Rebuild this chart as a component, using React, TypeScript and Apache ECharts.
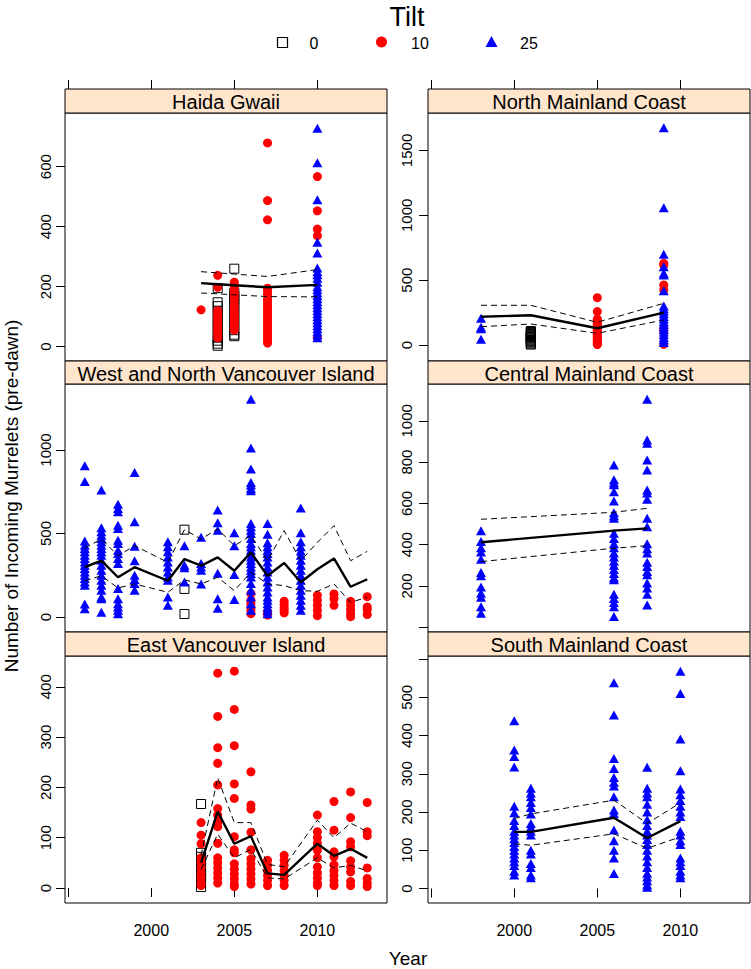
import React, { useEffect, useRef } from 'react';
import * as echarts from 'echarts';

type Col = [number, number[]][];

// ---------------- Haida Gwaii ----------------
const haidaYears = [2003, 2004, 2005, 2007, 2010];
const haidaMean = [212, 208, 205, 198, 206];
const haidaUpper = [250, 246, 242, 234, 257];
const haidaLower = [179, 176, 173, 167, 166];
const haidaT0: Col = [
  [2004, [195, 148, 135, 120, 105, 90, 75, 60, 45, 30, 20, 10, 3]],
  [2005, [260, 180, 170, 158, 145, 130, 115, 100, 85, 70, 55, 40, 35]],
];
const haidaT10: Col = [
  [2003, [123]],
  [2004, [238, 198, 120, 110, 100, 90, 80, 65, 55, 45, 30]],
  [2005, [215, 205, 195, 180, 170, 160, 140, 125, 115, 105, 95, 85, 75, 65, 55]],
  [2007, [679, 487, 423, 195, 185, 175, 160, 150, 140, 130, 120, 110, 100, 90, 80, 70, 60, 50, 40, 30, 20, 12]],
  [2010, [567, 453, 392, 370, 30]],
];
const haidaT25: Col = [
  [2010, [728, 613, 490, 348, 312, 262, 250, 240, 228, 215, 200, 190, 180, 170, 160, 150, 140, 130, 120, 110, 100, 90, 80, 70, 60, 50, 40, 30]],
];

// ---------------- North Mainland Coast ----------------
const northYears = [1998, 2001, 2005, 2009];
const northMean = [218, 229, 129, 249];
const northUpper = [306, 306, 175, 321];
const northLower = [141, 162, 90, 193];
const northT0: Col = [
  [2001, [108, 100, 92, 85, 78, 70, 62, 55, 48, 40, 32, 25, 18, 10, 3]],
];
const northT10: Col = [
  [2005, [365, 258, 200, 190, 180, 170, 160, 150, 140, 130, 120, 110, 100, 90, 80, 70, 60, 50, 40, 30, 20, 10, 3]],
  [2009, [630, 615, 463, 424, 130, 100, 5]],
];
const northT25: Col = [
  [1998, [206, 136, 125, 44]],
  [2009, [1675, 1059, 699, 604, 553, 540, 419, 300, 280, 260, 240, 220, 200, 180, 160, 140, 120, 100, 80, 60, 40, 20]],
];

// ---------------- West and North Vancouver Island ----------------
const westYears = [1996, 1997, 1998, 1999, 2001, 2002, 2003, 2004, 2005, 2006, 2007, 2008, 2009, 2010, 2011, 2012, 2013];
const westMean = [298, 337, 238, 298, 217, 347, 307, 357, 277, 387, 247, 323, 208, 286, 351, 181, 226];
const westUpper = [413, 467, 367, 427, 327, 523, 467, 527, 427, 487, 337, 517, 337, 447, 547, 337, 393];
const westLower = [217, 247, 174, 198, 148, 222, 198, 238, 158, 268, 198, 188, 158, 154, 198, 88, 118];
const westT0: Col = [[2002, [523, 168, 18]]];
const westT10: Col = [
  [2006, [140, 100, 80, 60, 40, 20]],
  [2007, [30, 12]],
  [2008, [95, 75, 55, 40, 25]],
  [2010, [130, 100, 70, 40, 8]],
  [2011, [138, 110, 70]],
  [2012, [94, 70, 45, 20, 2]],
  [2013, [122, 60, 45, 15]],
];
const westT25: Col = [
  [1996, [906, 812, 455, 430, 410, 390, 370, 350, 330, 310, 290, 270, 250, 230, 210, 190, 78, 50]],
  [1997, [760, 535, 510, 490, 470, 450, 430, 410, 390, 370, 340, 310, 280, 250, 220, 190, 160, 120, 110, 28]],
  [1998, [675, 650, 630, 550, 530, 460, 440, 400, 380, 350, 320, 170, 110, 80, 60, 40, 20]],
  [1999, [866, 571, 423, 337, 250, 225, 200, 160]],
  [2001, [450, 420, 390, 360, 330, 300, 270, 240, 220, 120, 70]],
  [2002, [427, 310, 295, 210]],
  [2003, [477, 320, 300, 280, 198]],
  [2004, [641, 565, 520, 262, 110, 52]],
  [2005, [505, 427, 255, 105]],
  [2006, [1304, 1012, 886, 806, 790, 770, 756, 560, 540, 520, 500, 470, 440, 420, 400, 380, 360, 340, 320, 300, 280, 260, 240, 200, 160, 120, 80, 40]],
  [2007, [560, 495, 445, 420, 400, 380, 360, 330, 300, 270, 240, 210, 180, 150, 120, 100, 80, 60, 40, 20]],
  [2009, [653, 505, 450, 420, 395, 370, 340, 310, 280, 250, 220, 190, 160, 130, 100, 70, 40]],
];

// ---------------- Central Mainland Coast ----------------
const centralYears = [1998, 2006, 2008];
const centralMean = [412, 468, 479];
const centralUpper = [523, 557, 576];
const centralLower = [318, 383, 395];
const centralT25: Col = [
  [1998, [468, 415, 385, 365, 330, 265, 250, 195, 165, 145, 100, 68]],
  [2006, [786, 715, 700, 690, 657, 612, 555, 540, 528, 455, 430, 405, 385, 360, 340, 320, 300, 280, 260, 240, 230, 160, 140, 120, 100, 52]],
  [2008, [1104, 907, 891, 810, 762, 665, 650, 620, 528, 487, 405, 380, 360, 315, 295, 270, 255, 215, 190, 160, 108]],
];

// ---------------- East Vancouver Island ----------------
const eastYears = [2003, 2004, 2005, 2006, 2007, 2008, 2010, 2011, 2012, 2013];
const eastMean = [50, 152, 88, 103, 29, 26, 88, 64, 78, 60];
const eastUpper = [65, 219, 130, 130, 47, 42, 135, 100, 129, 112];
const eastLower = [37, 107, 60, 77, 20, 18, 60, 40, 45, 34];
const eastT0: Col = [[2003, [167, 70, 62, 55, 48, 40, 33, 25, 18, 10, 2]]];
const eastT10: Col = [
  [2003, [130, 105, 88, 60, 50, 40, 30, 20, 10, 5]],
  [2004, [427, 341, 279, 248, 205, 158, 145, 130, 122, 89, 60, 50, 40, 30, 20, 10]],
  [2005, [431, 355, 283, 207, 178, 102, 76, 70, 48, 38, 28, 18, 8, 3]],
  [2006, [231, 165, 157, 111, 76, 58, 48, 38, 28, 18, 8]],
  [2007, [55, 45, 35, 25, 15, 5]],
  [2008, [65, 55, 45, 35, 25, 15, 5]],
  [2010, [145, 112, 100, 89, 75, 60, 42, 30, 20, 10, 5]],
  [2011, [172, 115, 72, 62, 46, 35, 25, 15, 5]],
  [2012, [191, 140, 92, 82, 54, 42, 32, 13, 5]],
  [2013, [170, 112, 104, 40, 19, 10, 3]],
];

// ---------------- South Mainland Coast ----------------
const southYears = [2000, 2001, 2006, 2008, 2010];
const southMean = [148, 148, 185, 132, 176];
const southUpper = [183, 195, 231, 170, 224];
const southLower = [117, 113, 143, 105, 135];
const southT25: Col = [
  [2000, [439, 362, 345, 318, 215, 198, 178, 165, 150, 140, 130, 120, 110, 100, 90, 80, 70, 60, 45, 35]],
  [2001, [262, 250, 240, 225, 212, 195, 170, 160, 150, 140, 100, 90, 65, 55, 35, 28]],
  [2006, [538, 454, 340, 314, 290, 278, 268, 240, 205, 196, 153, 125, 100, 80, 39]],
  [2008, [317, 262, 250, 240, 220, 200, 180, 165, 150, 140, 128, 115, 100, 85, 70, 55, 40, 30, 20, 10, 3]],
  [2010, [568, 510, 391, 308, 260, 245, 230, 215, 200, 188, 150, 140, 125, 115, 80, 70, 60, 45, 35, 28]],
];

// ---------------- axis ticks ----------------
const xTicks = [1995, 2000, 2005, 2010];
const xTickLabels = [2000, 2005, 2010];
const tiltLabels = ['0', '10', '25'];

const FONT = "'Liberation Sans', Arial, Helvetica, sans-serif";
const X_MIN = 1994.81;
const X_MAX = 2014.19;

const panels = [
  { name: 'Haida Gwaii', col: 0, row: 0, yMin: -47.7, yMax: 778.9, yTicks: [0, 200, 400, 600], yLabels: [0, 200, 400, 600],
    years: haidaYears, mean: haidaMean, upper: haidaUpper, lower: haidaLower, t0: haidaT0, t10: haidaT10, t25: haidaT25 },
  { name: 'North Mainland Coast', col: 1, row: 0, yMin: -123.4, yMax: 1788.7, yTicks: [0, 500, 1000, 1500], yLabels: [0, 500, 1000, 1500],
    years: northYears, mean: northMean, upper: northUpper, lower: northLower, t0: northT0, t10: northT10, t25: northT25 },
  { name: 'West and North Vancouver Island', col: 0, row: 1, yMin: -89.8, yMax: 1395.2, yTicks: [0, 500, 1000], yLabels: [0, 500, 1000],
    years: westYears, mean: westMean, upper: westUpper, lower: westLower, t0: westT0, t10: westT10, t25: westT25 },
  { name: 'Central Mainland Coast', col: 1, row: 1, yMin: -22.8, yMax: 1178.2, yTicks: [0, 200, 400, 600, 800, 1000], yLabels: [200, 400, 600, 800, 1000],
    years: centralYears, mean: centralMean, upper: centralUpper, lower: centralLower, t0: [] as Col, t10: [] as Col, t25: centralT25 },
  { name: 'East Vancouver Island', col: 0, row: 2, yMin: -29.8, yMax: 461.2, yTicks: [0, 100, 200, 300, 400], yLabels: [0, 100, 200, 300, 400],
    years: eastYears, mean: eastMean, upper: eastUpper, lower: eastLower, t0: eastT0, t10: eastT10, t25: [] as Col },
  { name: 'South Mainland Coast', col: 1, row: 2, yMin: -38, yMax: 608.1, yTicks: [0, 100, 200, 300, 400, 500, 600], yLabels: [0, 100, 200, 300, 400, 500],
    years: southYears, mean: southMean, upper: southUpper, lower: southLower, t0: [] as Col, t10: [] as Col, t25: southT25 },
];

const COL_LEFT = [65, 428];
const PANEL_W = 322;
const STRIP_TOP = [89, 361, 632];
const STRIP_H = [24, 23, 24];
const PANEL_TOP = [113, 384, 656];
const PANEL_H = [248, 248, 247];

const flat = (c: Col) => c.flatMap(([yr, vals]) => vals.map((v) => [yr, v]));
const plain = (v: number) => String(Math.round(v));

function buildOption() {
  const grid: any[] = [];
  const xAxis: any[] = [];
  const yAxis: any[] = [];
  const series: any[] = [];
  const graphic: any[] = [];

  panels.forEach((p, i) => {
    const left = COL_LEFT[p.col];
    grid.push({
      left, top: PANEL_TOP[p.row], width: PANEL_W, height: PANEL_H[p.row],
      show: true, borderColor: '#000', borderWidth: 1, backgroundColor: 'transparent',
    });
    const bottom = p.row === 2;
    xAxis.push({
      gridIndex: i, type: 'value', min: X_MIN, max: X_MAX, position: 'bottom',
      axisLine: { show: false }, splitLine: { show: false },
      axisTick: { show: bottom, length: 9, customValues: xTicks, lineStyle: { color: '#000', width: 1 } },
      axisLabel: { show: bottom, customValues: xTickLabels, formatter: plain, fontSize: 16, color: '#000', margin: 19, fontFamily: FONT },
    });
    yAxis.push({
      gridIndex: i, type: 'value', min: p.yMin, max: p.yMax, position: 'left',
      axisLine: { show: false }, splitLine: { show: false },
      axisTick: { show: true, length: 9, customValues: p.yTicks, lineStyle: { color: '#000', width: 1 } },
      axisLabel: { customValues: p.yLabels, formatter: plain, rotate: 90, fontSize: 15, color: '#000', margin: p.col === 0 ? 12 : 14, fontFamily: FONT },
    });

    // scatter groups
    series.push({
      type: 'scatter', name: tiltLabels[0], xAxisIndex: i, yAxisIndex: i, data: flat(p.t0), silent: true,
      symbol: 'rect', symbolSize: 9,
      itemStyle: { color: 'rgba(0,0,0,0)', borderColor: '#000', borderWidth: 1, opacity: 1 },
    });
    series.push({
      type: 'scatter', name: tiltLabels[1], xAxisIndex: i, yAxisIndex: i, data: flat(p.t10), silent: true,
      symbol: 'circle', symbolSize: 9, itemStyle: { color: '#ff0000', opacity: 1 },
    });
    series.push({
      type: 'scatter', name: tiltLabels[2], xAxisIndex: i, yAxisIndex: i, data: flat(p.t25), silent: true,
      symbol: 'triangle', symbolSize: [10, 9], itemStyle: { color: '#0000ff', opacity: 1 },
    });
    const mk = (vals: number[], width: number, dashed: boolean) => ({
      type: 'line', xAxisIndex: i, yAxisIndex: i, silent: true, showSymbol: false, symbol: 'none', z: 3,
      data: p.years.map((y, k) => [y, vals[k]]),
      lineStyle: { color: '#000', width, type: dashed ? [6, 4] : 'solid', opacity: 1 },
    });
    series.push(mk(p.upper, 1, true));
    series.push(mk(p.lower, 1, true));
    series.push(mk(p.mean, 2.4, false));

    // strip
    graphic.push({
      type: 'rect', z: 10,
      shape: { x: left, y: STRIP_TOP[p.row], width: PANEL_W, height: STRIP_H[p.row] },
      style: { fill: '#ffe5cc', stroke: '#000', lineWidth: 1 },
    });
    graphic.push({
      type: 'text', z: 11, x: left + PANEL_W / 2, y: STRIP_TOP[p.row] + STRIP_H[p.row] / 2 + 1,
      style: { text: p.name, fontSize: 20, fontFamily: FONT, fill: '#000', align: 'center', verticalAlign: 'middle', textAlign: 'center', textVerticalAlign: 'middle' },
    });
  });

  // top ticks for top row (above the strips)
  panels.forEach((p, i) => {
    if (p.row !== 0) return;
    xAxis.push({
      gridIndex: i, type: 'value', min: X_MIN, max: X_MAX, position: 'top', offset: 24,
      axisLine: { show: false }, splitLine: { show: false },
      axisTick: { show: true, length: 9, customValues: xTicks, lineStyle: { color: '#000', width: 1 } },
      axisLabel: { show: false },
    });
  });

  // titles and legend
  const txt = (text: string, x: number, y: number, size: number, rotation = 0) => ({
    type: 'text', x, y, rotation, z: 12,
    style: { text, fontSize: size, fontFamily: FONT, fill: '#000', align: 'center', verticalAlign: 'middle', textAlign: 'center', textVerticalAlign: 'middle' },
  });
  graphic.push(txt('Tilt', 407, 17, 27));
  graphic.push({ type: 'rect', z: 12, shape: { x: 277.5, y: 37.5, width: 10, height: 10 }, style: { fill: 'none', stroke: '#000', lineWidth: 1.2 } });
  graphic.push(txt(tiltLabels[0], 314, 43, 16));
  graphic.push({ type: 'circle', z: 12, shape: { cx: 381.5, cy: 42, r: 5.5 }, style: { fill: '#ff0000' } });
  graphic.push(txt(tiltLabels[1], 420, 43, 16));
  graphic.push({ type: 'polygon', z: 12, shape: { points: [[491.5, 36], [497.5, 47], [485.5, 47]] }, style: { fill: '#0000ff' } });
  graphic.push(txt(tiltLabels[2], 529, 43, 16));
  graphic.push(txt('Year', 408, 958, 19));
  graphic.push(txt('Number of Incoming Murrelets (pre-dawn)', 11, 496, 19, Math.PI / 2));

  return {
    animation: false,
    backgroundColor: '#ffffff',
    grid, xAxis, yAxis, series, graphic,
  };
}

export default function App() {
  const ref = useRef<HTMLDivElement>(null);
  useEffect(() => {
    if (!ref.current) return;
    const chart = echarts.init(ref.current, undefined, { renderer: 'svg' });
    chart.setOption(buildOption() as any);
    return () => chart.dispose();
  }, []);
  return <div ref={ref} style={{ position: 'fixed', left: 0, top: 0, width: 751, height: 969, background: '#fff' }} />;
}
